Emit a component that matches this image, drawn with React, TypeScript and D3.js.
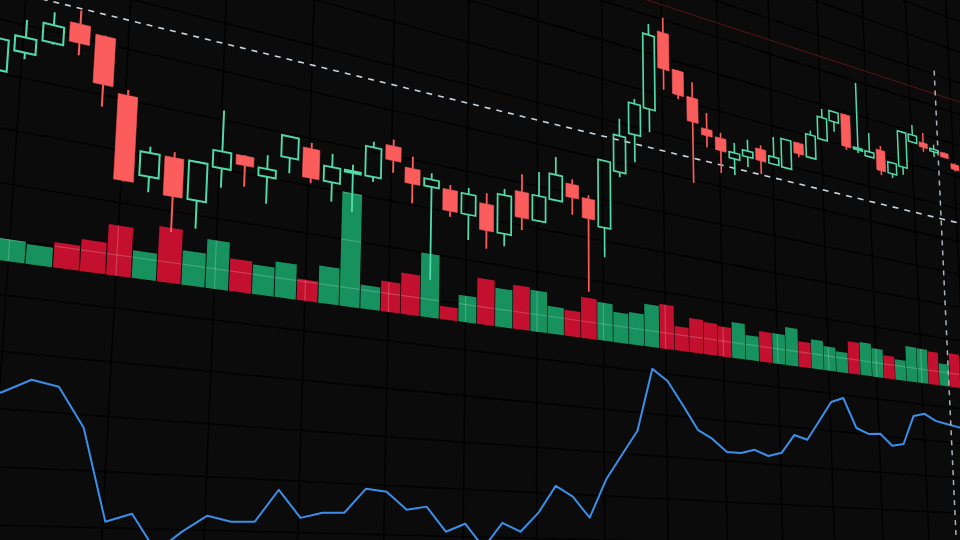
import React, { useEffect, useRef } from 'react';
import * as d3 from 'd3';

// one entry per candle slot, left to right
const opens = [
  39.3, 41.7, 43.4, 46.1, 45.4, 39.5, 31.1, 33.7, 29.4, 33.5, 35.4, 33.5, 36.2, 37.8, 34.3,
  35.9, 35.9, 40.2, 37.9, 36.1, 36.2, 33.5, 35.3, 31.9, 37.8, 34.4, 37.6, 40.2, 38.7, 35.2,
  43.3, 49.1, 53.3, 65.1, 60.1, 56.7, 52.6, 51.8, 49.2, 50.0, 51.7, 49.9, 49.8, 54.2, 52.4,
  55.8, 59.2, 60.9, 55.7, 55.1, 56.7, 53.3, 54.9, 59.6, 60.0, 59.1, 59.3, 57.8,
];
const highs = [
  43.6, 45.2, 46.7, 47.6, 45.5, 40.1, 34.4, 34.3, 33.8, 40.1, 35.5, 36.0, 38.8, 38.5, 37.7,
  36.9, 40.2, 41.0, 39.4, 37.8, 36.8, 36.9, 36.7, 37.7, 40.1, 40.9, 43.4, 40.9, 39.2, 44.5,
  50.8, 54.2, 65.7, 67.3, 60.2, 59.0, 55.0, 52.6, 51.6, 52.6, 52.3, 54.1, 54.3, 54.3, 56.7,
  60.7, 60.9, 61.0, 66.7, 59.0, 57.4, 55.2, 60.9, 62.5, 61.7, 60.2, 59.4, 58.0,
];
const lows = [
  38.8, 41.0, 43.2, 42.7, 37.7, 30.1, 29.4, 25.5, 26.3, 31.3, 31.9, 30.4, 34.4, 33.7, 32.0,
  31.2, 35.3, 36.9, 33.6, 24.6, 32.8, 30.3, 29.6, 30.3, 32.8, 34.3, 37.5, 36.1, 26.2, 31.2,
  42.6, 45.2, 50.0, 56.7, 55.9, 44.2, 49.9, 46.6, 46.8, 48.5, 47.9, 49.8, 49.7, 52.0, 52.3,
  55.7, 57.6, 55.2, 55.2, 55.0, 52.6, 52.6, 53.6, 59.5, 58.5, 58.1, 58.4, 56.6,
];
const closes = [
  42.6, 43.3, 45.3, 44.0, 40.1, 30.2, 33.7, 29.4, 33.7, 35.4, 34.3, 34.4, 38.7, 34.3, 36.1,
  36.1, 39.5, 38.4, 36.0, 37.0, 33.5, 36.1, 31.9, 36.9, 34.4, 37.7, 41.0, 38.4, 36.0, 44.4,
  48.4, 53.5, 64.1, 59.7, 56.5, 53.1, 51.6, 49.9, 50.1, 50.9, 49.9, 51.0, 54.2, 52.5, 56.0,
  59.3, 60.8, 55.7, 56.0, 55.9, 53.3, 55.1, 60.8, 60.8, 59.2, 59.3, 58.5, 56.9,
];
const volumes = [
  20, 22.2, 20.0, 26.1, 33.2, 53.4, 29.5, 59.6, 37.3, 53.5, 36.1, 33.0, 40.2, 24.4, 43.0,
  134.8, 27.9, 36.2, 49.4, 77.6, 16.0, 32.9, 57.5, 48.4, 55.8, 52.8, 35.4, 33.4, 53.8, 50.4,
  40.3, 43.3, 57.6, 60.8, 33.4, 47.6, 45.0, 42.4, 51.1, 35.4, 44.0, 44.0, 55.8, 37.8, 43.6,
  36.0, 31.0, 49.1, 50.4, 43.9, 35.5, 31.9, 55.3, 54.8, 52.6, 35.7, 54.7, 45,
];
const oscillator = [
  65.0, 67.6, 71.2, 70.0, 60.2, 37.0, 39.2, 29.8, 35.0, 39.3, 37.9, 38.1, 46.9, 39.5, 41.1,
  41.3, 48.3, 47.7, 42.8, 43.9, 36.8, 39.3, 32.4, 39.9, 37.4, 43.3, 51.9, 48.8, 42.4, 54.7,
  63.1, 71.4, 92.6, 89.1, 81.5, 73.5, 70.8, 66.7, 66.7, 68.2, 66.4, 67.9, 74.7, 73.4, 80.8,
  88.3, 90.3, 79.5, 77.7, 78.2, 74.0, 75.1, 86.5, 87.8, 85.5, 84.7, 84.0, 83.5,
];
const priceLine = 47.8;
const levelLine = 69.2;
const crosshairSlot = 55.4;

// the screen was photographed at an angle: flat chart units -> photo pixels
const ALPHA = 0.0117;
const BETA = -1 / 8208;
const VPX: [number, number] = [2440, 585];
const VPY: [number, number] = [557, -7950];
const ORIGIN: [number, number] = [-17.4, 258];

function project(X: number, Y: number): [number, number] {
  const w = 1 + ALPHA * X + BETA * Y;
  return [
    (VPX[0] * ALPHA * X + VPY[0] * BETA * Y + ORIGIN[0]) / w,
    (VPX[1] * ALPHA * X + VPY[1] * BETA * Y + ORIGIN[1]) / w,
  ];
}

const BG = '#0b0b0b';
const GREEN = '#52d9a9';
const RED = '#fb5c5c';
const VOL_GREEN = '#17925e';
const VOL_RED = '#c2102e';

export default function App() {
  const svgRef = useRef<SVGSVGElement | null>(null);

  useEffect(() => {
    if (!svgRef.current) return;
    const svg = d3.select(svgRef.current);
    svg.selectAll('*').remove();

    const n = opens.length;
    const slots = d3.range(n);
    const x = d3.scaleBand<number>().domain(slots).range([-0.5, n - 0.5]);
    const cx = (k: number) => (x(k) as number) + x.bandwidth() / 2;
    const yPrice = d3.scaleLinear().domain([20, 70]).range([0, -500]);
    const yVol = d3.scaleLinear().domain([0, 100]).range([0, -100]);
    const yOsc = d3.scaleLinear().domain([0, 100]).range([400, 0]);

    const line = d3.line();
    const seg = (x0: number, y0: number, x1: number, y1: number) =>
      line([project(x0, y0), project(x1, y1)]) || '';
    const quad = (x0: number, x1: number, y0: number, y1: number) =>
      (line([project(x0, y0), project(x1, y0), project(x1, y1), project(x0, y1)]) || '') + 'Z';

    svg.append('rect').attr('width', 960).attr('height', 540).attr('fill', BG);

    const gridX = d3.range(-2, 20).map((i) => i * 4 + 0.9);
    const gridY = d3.range(-12, 11).map((i) => 34 + i * 56);
    const drawGrid = (g: any, color: string, width: number) => {
      gridX.forEach((gx) => {
        g.append('path').attr('d', seg(gx, -700, gx, 600)).attr('stroke', color).attr('stroke-width', width);
      });
      gridY.forEach((gy) => {
        g.append('path').attr('d', seg(-6, gy, 75, gy)).attr('stroke', color).attr('stroke-width', width);
      });
    };
    drawGrid(svg.append('g'), '#020202', 1.5);

    svg
      .append('path')
      .attr('d', seg(-5, yPrice(levelLine), 75, yPrice(levelLine)))
      .attr('stroke', '#5a1418')
      .attr('stroke-width', 1);

    // volume bars
    const barPath = (k: number) => quad(x(k) as number + 0.02, (x(k) as number) + x.bandwidth() - 0.02, yVol(0), yVol(volumes[k]));
    const up = (k: number) => closes[k] >= opens[k];
    svg
      .append('g')
      .selectAll('path')
      .data(slots)
      .enter()
      .append('path')
      .attr('d', (k) => barPath(k))
      .attr('fill', (k) => (up(k) ? VOL_GREEN : VOL_RED));

    const clip = svg.append('clipPath').attr('id', 'volclip');
    slots.forEach((k) => clip.append('path').attr('d', barPath(k)));
    drawGrid(svg.append('g').attr('clip-path', 'url(#volclip)'), 'rgba(255,255,255,0.2)', 1.2);

    svg
      .append('path')
      .attr('d', seg(-5, yPrice(priceLine), 75, yPrice(priceLine)))
      .attr('stroke', '#c9d4de')
      .attr('stroke-width', 1.6)
      .attr('stroke-dasharray', '6 6');

    // candles
    const half = 0.39;
    const candles = svg.append('g').attr('fill', 'none');
    slots.forEach((k) => {
      const c = cx(k);
      const sw = 2.1 / Math.pow(1 + ALPHA * k, 0.7);
      const top = Math.max(opens[k], closes[k]);
      const bot = Math.min(opens[k], closes[k]);
      let yt = yPrice(top);
      let yb = yPrice(bot);
      if (yb - yt < 2) {
        yt -= 1;
        yb += 1;
      }
      const col = up(k) ? GREEN : RED;
      if (highs[k] > top) {
        candles.append('path').attr('d', seg(c, yPrice(highs[k]), c, yt)).attr('stroke', col).attr('stroke-width', sw);
      }
      if (lows[k] < bot) {
        candles.append('path').attr('d', seg(c, yb, c, yPrice(lows[k]))).attr('stroke', col).attr('stroke-width', sw);
      }
      candles
        .append('path')
        .attr('d', quad(c - half, c + half, yt, yb))
        .attr('fill', up(k) ? 'none' : RED)
        .attr('stroke', col)
        .attr('stroke-width', up(k) ? sw : 0.6);
    });

    // oscillator
    const oscLine = d3
      .line<number>()
      .x((k) => project(cx(k), yOsc(oscillator[k]))[0])
      .y((k) => project(cx(k), yOsc(oscillator[k]))[1]);
    svg
      .append('path')
      .attr('d', oscLine(slots) || '')
      .attr('fill', 'none')
      .attr('stroke', '#3b8fe8')
      .attr('stroke-width', 2)
      .attr('stroke-linejoin', 'round');

    // crosshair
    svg
      .append('path')
      .attr('d', seg(crosshairSlot, yPrice(73.3), crosshairSlot, 700))
      .attr('stroke', '#aab4bd')
      .attr('stroke-width', 1.5)
      .attr('stroke-dasharray', '5 5');
  }, []);

  return (
    <svg
      ref={svgRef}
      width={960}
      height={540}
      style={{ position: 'fixed', left: 0, top: 0, background: BG }}
    />
  );
}
